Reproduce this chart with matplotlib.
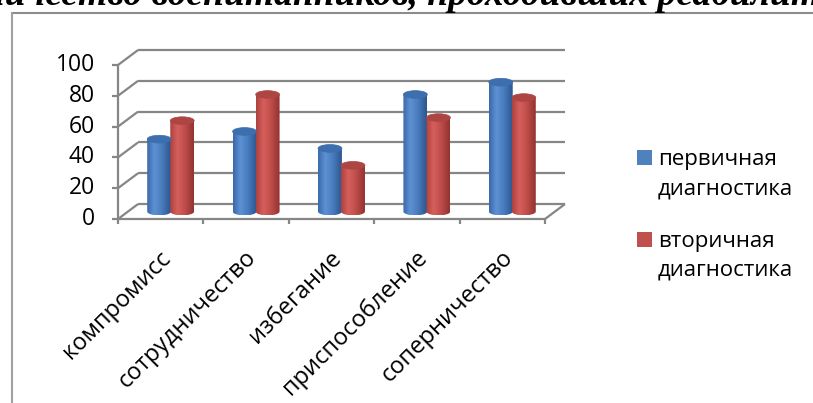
import numpy as np
import matplotlib.pyplot as plt
from matplotlib.patches import Ellipse, PathPatch, Rectangle
from matplotlib.path import Path
from matplotlib.lines import Line2D
from matplotlib.colors import LinearSegmentedColormap

# ---------------------------------------------------------------------------
# data
# ---------------------------------------------------------------------------
CATEGORIES = ['компромисс', 'сотрудничество', 'избегание',
              'приспособление', 'соперничество']
SERIES = ['первичная\nдиагностика', 'вторичная\nдиагностика']
PRIMARY = [47, 52, 41, 76, 84]
SECONDARY = [59, 76, 30, 61, 74]
Y_TICKS = [0, 20, 40, 60, 80, 100]
TITLE = 'количество воспитанников, проходивших реабилитацию'

# ---------------------------------------------------------------------------
# style
# ---------------------------------------------------------------------------
W, H = 813, 403
DPI = 100
FONT = 'Open Sans'
GRID = '#868686'

BLUE_CMAP = LinearSegmentedColormap.from_list(
    'blue_cyl', [(0, '#3a69aa'), (0.3, '#5d91d3'), (0.6, '#4a7ec0'), (1, '#2c5690')])
RED_CMAP = LinearSegmentedColormap.from_list(
    'red_cyl', [(0, '#ab423f'), (0.3, '#d65f5b'), (0.6, '#c24f4c'), (1, '#923330')])
TOP_COLORS = ['#3d6eae', '#ad4643']
KEY_COLORS = ['#4f81bd', '#c0504d']

# depth of the 3-D box in data units (x: categories, y: values)
DX, DY = 0.234, 9.7
BAR_W, CAP_H = 0.28, 5.0

fig = plt.figure(figsize=(W / DPI, H / DPI), dpi=DPI)
fig.patch.set_facecolor('white')

# plot area: front 0 at (118, 219) px, front 100 at y=65 px
ax_left, ax_bottom = 118 / W, (H - 219) / H
ax_w = (5 + DX) * 85.4 / W
ax_h = (100 + DY) * 1.54 / H
ax = fig.add_axes([ax_left, ax_bottom, ax_w, ax_h])
ax.axis('off')


def line(xs, ys, **kw):
    ax.add_line(Line2D(xs, ys, color=GRID, lw=1.6, clip_on=False,
                       solid_capstyle='butt', zorder=1, **kw))


n = len(CATEGORIES)

# walls: back gridlines, side diagonals, front axis
for v in Y_TICKS:
    line([DX, n + DX], [v + DY, v + DY])
    line([0, DX], [v, v + DY])
    line([-0.07, 0], [v, v])
    ax.text(-0.27, v, str(v), ha='right', va='center', fontsize=16.5,
            family=FONT, color='black')
line([0, 0], [0, Y_TICKS[-1]])
# floor
line([0, n], [0, 0])
line([n, n + DX], [0, DY])
for i in range(n + 1):
    line([i, i], [0, -3.5])


def cylinder(cx, value, cmap, top_color, z):
    base = DY / 2
    top = base + value
    x0, x1 = cx - BAR_W / 2, cx + BAR_W / 2
    t = np.linspace(np.pi, 2 * np.pi, 40)
    bx = cx + BAR_W / 2 * np.cos(t)
    by = base + CAP_H / 2 * np.sin(t)
    verts = [(x0, top)] + list(zip(bx, by)) + [(x1, top), (x0, top)]
    codes = [Path.MOVETO] + [Path.LINETO] * (len(verts) - 2) + [Path.CLOSEPOLY]
    clip = PathPatch(Path(verts, codes), transform=ax.transData,
                     fc='none', ec='none')
    ax.add_patch(clip)
    grad = np.linspace(0, 1, 64).reshape(1, -1)
    im = ax.imshow(grad, cmap=cmap, extent=(x0, x1, base - CAP_H / 2, top),
                   aspect='auto', interpolation='bicubic', zorder=z)
    im.set_clip_path(clip)
    ax.add_patch(Ellipse((cx, top), BAR_W, CAP_H, fc=top_color,
                         ec=top_color, lw=0.5, zorder=z + 0.5))


for i in range(n):
    c = i + 0.5 + DX / 2
    cylinder(c - BAR_W / 2 + 0.005, PRIMARY[i], BLUE_CMAP, TOP_COLORS[0], 3 + i)
    cylinder(c + BAR_W / 2 - 0.005, SECONDARY[i], RED_CMAP, TOP_COLORS[1], 3.2 + i)
    ax.text(i + 0.58, -23, CATEGORIES[i], rotation=45, rotation_mode='anchor',
            ha='right', va='center', fontsize=17, family=FONT)

ax.set_xlim(0, n + DX)
ax.set_ylim(0, 100 + DY)

# legend
key_y = [150, 232]
text_mid = [174, 256]
for k, (label, col) in enumerate(zip(SERIES, KEY_COLORS)):
    y = key_y[k]
    fig.patches.append(Rectangle((637 / W, 1 - (y + 15) / H), 15 / W, 15 / H,
                                 transform=fig.transFigure, fc=col, ec='none'))
    fig.text(658 / W, 1 - text_mid[k] / H, label, ha='left', va='center',
             fontsize=16, family=FONT, linespacing=1.5)

# frame around the chart object
fig.add_artist(Line2D([11.5 / W, 1], [1 - 12.5 / H] * 2, color='#8c8c8c',
                      lw=1.5, transform=fig.transFigure))
fig.add_artist(Line2D([11.5 / W] * 2, [1 - 12.5 / H, 0], color='#a0a0a0',
                      lw=1.5, transform=fig.transFigure))

# caption of the surrounding document, cut by the top edge
fig.text(-50 / W, 1 - 5 / H, TITLE, ha='left', va='baseline', fontsize=27,
         family='Liberation Serif', weight='bold', style='italic')

fig.savefig('out.png', dpi=DPI)
